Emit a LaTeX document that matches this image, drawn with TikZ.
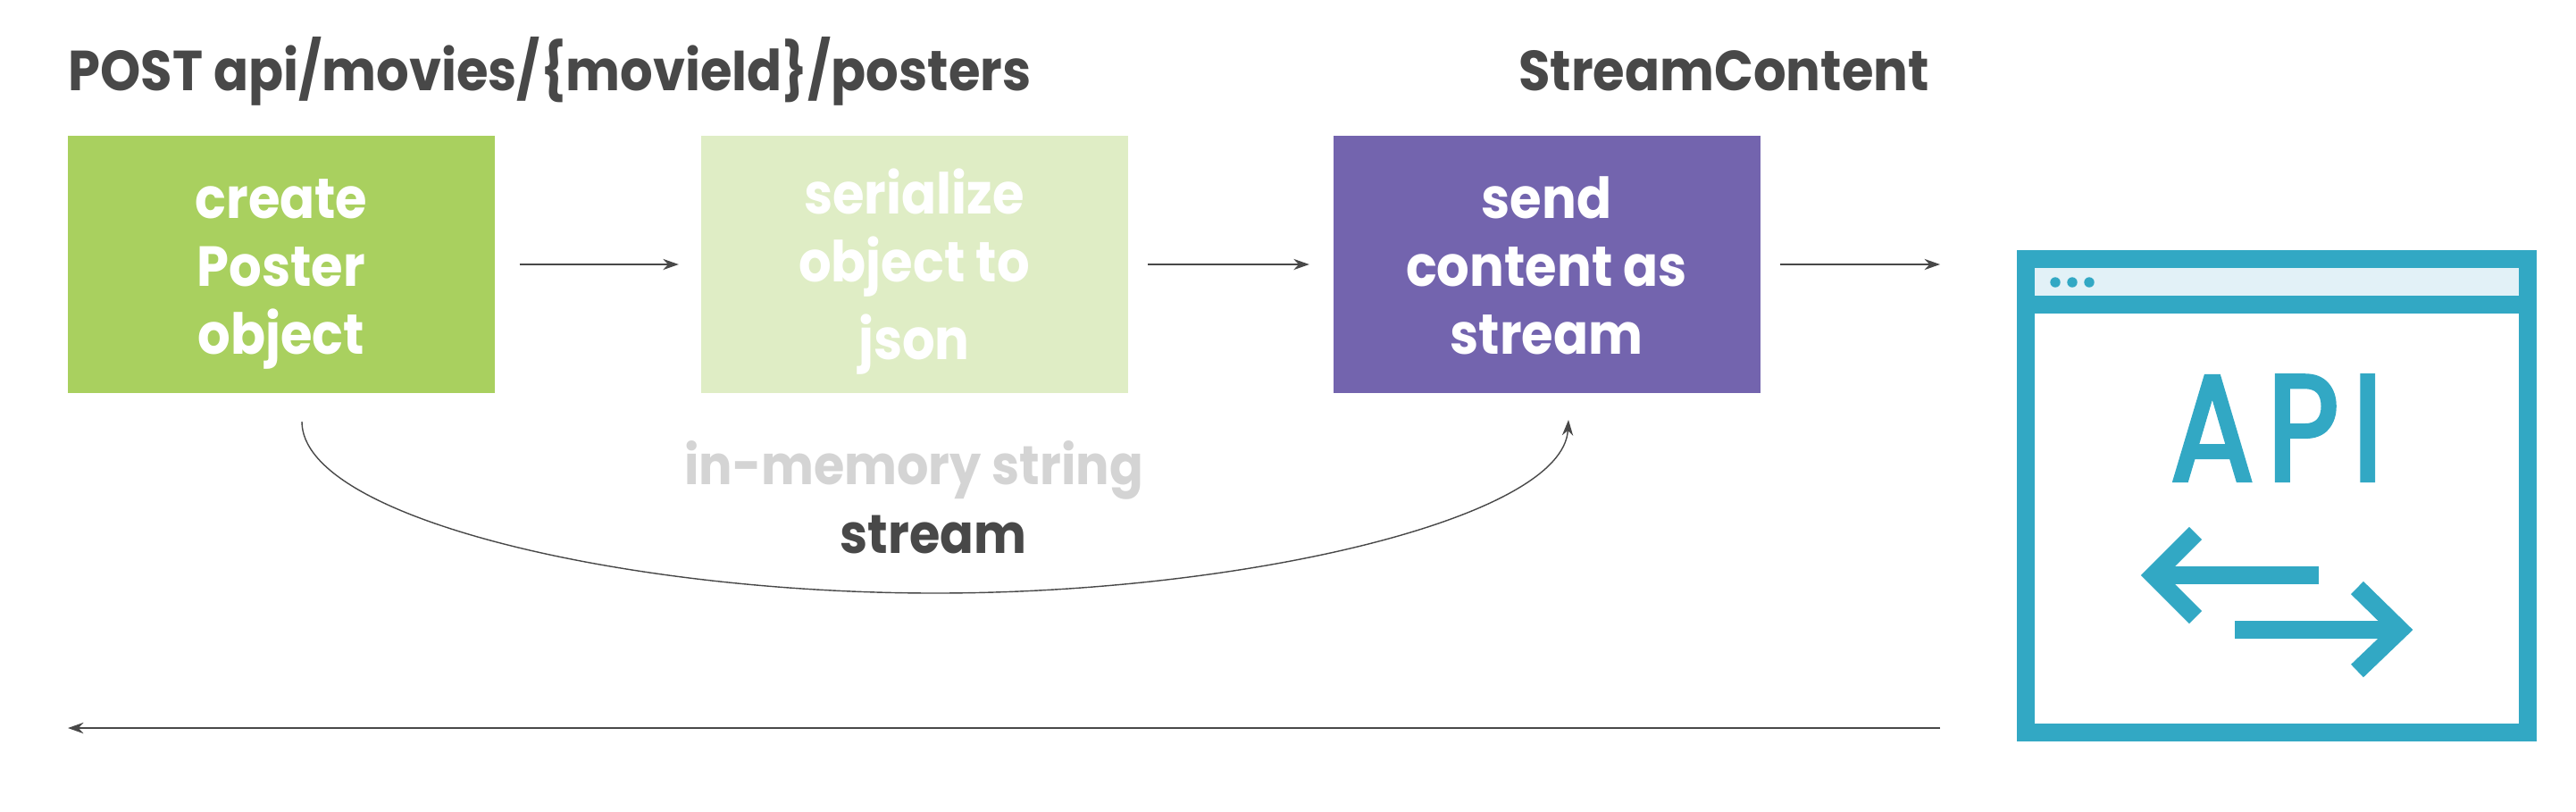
\documentclass[tikz,border=0pt]{standalone}
\usepackage{fontspec}
\setmainfont{Poppins}[FakeStretch=0.91]
\newfontfamily\apifont[FakeStretch=0.82,FakeBold=2.6,LetterSpace=9]{Poppins}
\usetikzlibrary{arrows.meta,calc}
\definecolor{posterGreen}{HTML}{A9D05F}
\definecolor{jsonGreen}{HTML}{DFEDC5}
\definecolor{streamPurple}{HTML}{7364AE}
\definecolor{iconBlue}{HTML}{32A8C4}
\definecolor{barBlue}{HTML}{E2F1F7}
\definecolor{darkText}{HTML}{484848}
\definecolor{fadedText}{HTML}{D4D4D4}
\newcommand{\boxstrut}{\rule[-5pt]{0pt}{24pt}}
\tikzset{
    stepbox/.style={
        minimum width=4.78cm,
        minimum height=2.88cm,
        inner sep=0pt,
        align=center,
        text=white,
        font=\fontsize{18}{21.6}\selectfont\bfseries
    },
    caption/.style={
        anchor=base,
        inner sep=0pt,
        font=\fontsize{18}{21.6}\selectfont\bfseries
    },
    small caption/.style={
        caption,
        font=\fontsize{17.4}{21.6}\selectfont\bfseries
    },
    flow/.style={
        darkText,
        line width=0.4pt,
        -{Stealth[length=5pt,width=3.5pt]}
    },
    icon line/.style={
        iconBlue,
        line width=0.2cm
    }
}
\begin{document}
\begin{tikzpicture}
                \useasboundingbox (0,0) rectangle (28.84,9.08);
                \coordinate (P1) at (3.15, 6.12);
                \coordinate (P2) at (10.235, 6.12);
                \coordinate (P3) at (17.315, 6.12);
                \coordinate (S1) at (3.38, 4.36);
                \coordinate (S2) at (10.47, 2.44);
                \coordinate (S3) at (17.56, 4.38);
                \coordinate (R1) at (21.72, 0.93);
                \coordinate (R2) at (0.76, 0.93);
                \node [stepbox, fill=posterGreen] (create) at (P1) {\boxstrut create\\Poster\\object\boxstrut};
                \node [stepbox, fill=jsonGreen] (serialize) at (P2) {\boxstrut serialize\\object to\\json\boxstrut};
                \node [stepbox, fill=streamPurple] (send) at (P3) {\boxstrut send\\content as\\stream\boxstrut};
                \node [caption, darkText, anchor=base west] (route) at (0.76, 8.07) {POST api/movies/\{movieId\}/posters};
                \node [caption, darkText] (content) at (19.30, 8.07) {StreamContent};
                \node [small caption, fadedText] (memory) at (10.23, 3.66) {in-memory string};
                \node [small caption, darkText] (streamlabel) at (10.45, 2.89) {stream};
                \node [draw=iconBlue, line width=0.2cm, minimum width=5.62cm, minimum height=5.3cm, inner sep=0pt, outer sep=0pt] (window) at (25.49, 3.53) {};
                \fill [barBlue] (22.78, 6.08) rectangle (28.20, 5.77);
                \draw [icon line] (22.78, 5.67) -- (28.20, 5.67);
                \foreach \x in {23.01, 23.20, 23.39} {
                    \fill [iconBlue] (\x, 5.92) circle (0.057);
                }
                \node [iconBlue, inner sep=0pt, anchor=base, font=\apifont\fontsize{48}{48}\selectfont] (api) at (25.49, 3.70) {API};
                \draw [icon line] (25.96, 2.64) -- (24.11, 2.64);
                \draw [icon line, miter limit=10] (24.58, 3.11) -- (24.11, 2.64) -- (24.58, 2.17);
                \draw [icon line] (25.02, 2.03) -- (26.87, 2.03);
                \draw [icon line, miter limit=10] (26.39, 2.50) -- (26.87, 2.03) -- (26.39, 1.57);
                \draw [flow, shorten <=0.27cm, shorten >=0.24cm] (create) -- (serialize);
                \draw [flow, shorten <=0.22cm, shorten >=0.26cm] (serialize) -- (send);
                \draw [flow, shorten <=0.22cm, shorten >=0.96cm] (send.east) -- (send.east -| window.west);
                \draw [flow] (S1) .. controls (3.38, 3.28) and (7.00, 2.44) .. (S2) .. controls (13.94, 2.44) and (17.50, 3.28) .. (S3);
                \draw [flow] (R1) -- (R2);
            \end{tikzpicture}
\end{document}
